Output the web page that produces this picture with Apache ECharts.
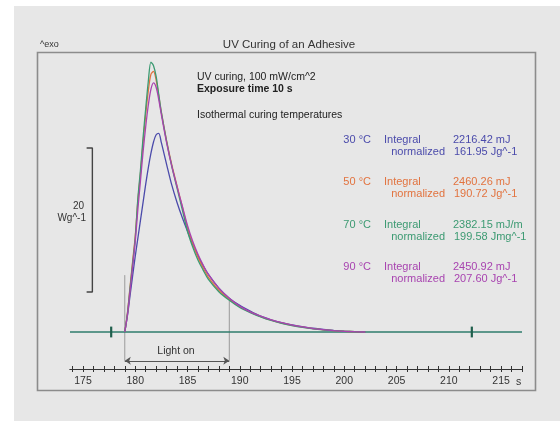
<!DOCTYPE html>
<html>
<head>
<meta charset="utf-8">
<style>
  html, body { margin: 0; padding: 0; background: #ffffff; }
  #chart { width: 560px; height: 421px; }
</style>
<script src="https://cdn.jsdelivr.net/npm/echarts@6/dist/echarts.min.js"></script>
</head>
<body>
<div id="chart"></div>
<script>
// Time axis (s) shared by the four DSC curves
const times = [179, 179.25, 179.5, 179.75, 180, 180.25, 180.5, 180.75, 181, 181.25, 181.5, 181.75,
  182, 182.25, 182.5, 183, 183.5, 184, 184.5, 185, 185.5, 186, 186.5, 187, 188, 189, 190, 191,
  192, 193, 194, 195, 196, 197, 198, 199, 200, 201, 202];

// Heat flow (W/g) for each isothermal curing temperature
const heat30 = [0, 2.2, 5.0, 7.8, 10.5, 13.0, 15.5, 18.0, 20.5, 22.8, 24.8, 26.4,
  27.4, 27.6, 26.3, 23.3, 20.4, 18.0, 15.9, 14.0, 12.2, 10.6, 9.2, 8.0, 6.1, 4.7, 3.7, 2.9,
  2.2, 1.7, 1.3, 1.0, 0.75, 0.52, 0.35, 0.22, 0.12, 0.05, 0];
const heat50 = [0, 2.6, 6.2, 9.8, 13.3, 18.2, 22.0, 26.3, 30.2, 33.5, 35.8, 36.2,
  35.0, 32.8, 30.5, 26.6, 23.2, 20.3, 17.4, 14.5, 12.3, 10.4, 8.9, 7.6, 5.8, 4.5, 3.5, 2.75,
  2.15, 1.65, 1.25, 0.92, 0.67, 0.46, 0.30, 0.19, 0.10, 0.04, 0];
const heat70 = [0, 2.5, 6.0, 9.5, 13.0, 18.5, 22.5, 27.0, 31.0, 34.8, 37.5, 37.0,
  35.5, 33.0, 30.5, 26.5, 23.0, 20.0, 17.0, 14.0, 11.8, 10.0, 8.6, 7.3, 5.6, 4.4, 3.4, 2.7,
  2.1, 1.6, 1.2, 0.9, 0.65, 0.45, 0.30, 0.18, 0.10, 0.04, 0];
const heat90 = [0, 2.3, 5.6, 9.0, 12.5, 17.0, 21.0, 25.0, 28.5, 31.5, 33.7, 34.6,
  34.0, 32.3, 30.2, 26.3, 23.0, 20.2, 17.5, 14.8, 12.6, 10.8, 9.3, 8.0, 6.1, 4.7, 3.6, 2.8,
  2.2, 1.7, 1.3, 0.95, 0.70, 0.48, 0.32, 0.20, 0.10, 0.04, 0];

// Axis ticks and labels (s)
const tickValues = [];
for (let t = 174; t <= 217; t++) tickValues.push(t);
const labelValues = [175, 180, 185, 190, 195, 200, 205, 210, 215];

// Baseline, integration limits, light exposure and scale bar
const baselineRange = [173.76, 217];
const limitMarks = [177.7, 212.2];
const lightOn = [179, 189];
const scaleBar = { t: 175.9, from: 5.56, size: 20 };

// Result table per temperature
const temps = ['30 °C', '50 °C', '70 °C', '90 °C'];
const integrals = ['2216.42 mJ', '2460.26 mJ', '2382.15 mJ/m', '2450.92 mJ'];
const normalized = ['161.95 Jg^-1', '190.72 Jg^-1', '199.58 Jmg^-1', '207.60 Jg^-1'];
const colors = ['#4b4bab', '#e2733f', '#3c9a72', '#a844b0'];
const curves = [heat30, heat50, heat70, heat90];

const pair = (arr) => times.map((t, i) => [t, arr[i]]);

const chart = echarts.init(document.getElementById('chart'), null, { renderer: 'canvas' });

const series = [];
// Light-on markers: two vertical lines and a double arrow
series.push({
  type: 'line', data: [[lightOn[0], 7.9], [lightOn[0], -4.0]],
  showSymbol: false, silent: true, z: 1,
  lineStyle: { color: '#9a9a9a', width: 1 }
});
series.push({
  type: 'line', data: [[lightOn[1], 4.4], [lightOn[1], -4.0]],
  showSymbol: false, silent: true, z: 1,
  lineStyle: { color: '#9a9a9a', width: 1 }
});
series.push({
  type: 'line', data: [], silent: true,
  markLine: {
    silent: true, symbol: ['arrow', 'arrow'], symbolSize: [6, 6],
    lineStyle: { color: '#555', width: 1, type: 'solid' },
    label: { show: false },
    data: [[{ coord: [lightOn[0], -4.0] }, { coord: [lightOn[1], -4.0] }]]
  }
});
// Baseline
series.push({
  type: 'line', data: [[baselineRange[0], 0], [baselineRange[1], 0]],
  showSymbol: false, silent: true, z: 3,
  lineStyle: { color: '#2f7d6c', width: 1.6 }
});
// Integration limit marks on the baseline
limitMarks.forEach(t => {
  series.push({
    type: 'line', data: [[t, -0.75], [t, 0.75]],
    showSymbol: false, silent: true, z: 4,
    lineStyle: { color: '#1f5f4c', width: 2.2 }
  });
});
// Scale bar (20 W/g)
series.push({
  type: 'line',
  data: [[scaleBar.t - 0.55, scaleBar.from + scaleBar.size], [scaleBar.t, scaleBar.from + scaleBar.size],
         [scaleBar.t, scaleBar.from], [scaleBar.t - 0.55, scaleBar.from]],
  showSymbol: false, silent: true,
  lineStyle: { color: '#444', width: 1.4 }
});
// Heat-flow curves
curves.forEach((c, i) => {
  series.push({
    type: 'line', data: pair(c), showSymbol: false, smooth: 0.3, silent: true, z: 5,
    lineStyle: { color: colors[i], width: 1.3 }
  });
});

const font = 'Liberation Sans, Arial, sans-serif';
const graphics = [
  { type: 'rect', shape: { x: 14, y: 6, width: 546, height: 415 }, style: { fill: '#e7e7e7' }, z: -10 },
  { type: 'rect', shape: { x: 37.5, y: 52.5, width: 498, height: 338 },
    style: { fill: 'none', stroke: '#8c8c8c', lineWidth: 1.6 }, z: -5 },
  { type: 'text', left: 40, top: 40, style: { text: '^exo', fontSize: 9, fill: '#333', fontFamily: font } },
  { type: 'text', x: 289, y: 39, style: { text: 'UV Curing of an Adhesive', fontSize: 11.5, fill: '#333', fontFamily: font, textAlign: 'center' } },
  { type: 'text', x: 197, y: 72, style: { text: 'UV curing, 100 mW/cm^2', fontSize: 10.5, fill: '#222', fontFamily: font } },
  { type: 'text', x: 197, y: 84, style: { text: 'Exposure time 10 s', fontSize: 10.5, fill: '#222', fontFamily: font, fontWeight: 'bold' } },
  { type: 'text', x: 197, y: 110, style: { text: 'Isothermal curing temperatures', fontSize: 10.5, fill: '#222', fontFamily: font } },
  { type: 'text', x: 84, y: 201, style: { text: '20', fontSize: 10, fill: '#333', fontFamily: font, textAlign: 'right' } },
  { type: 'text', x: 86, y: 213, style: { text: 'Wg^-1', fontSize: 10, fill: '#333', fontFamily: font, textAlign: 'right' } },
  { type: 'text', x: 176, y: 346, style: { text: 'Light on', fontSize: 10.5, fill: '#333', fontFamily: font, textAlign: 'center' } },
  { type: 'text', x: 516, y: 377, style: { text: 's', fontSize: 10.5, fill: '#333', fontFamily: font } }
];
const rowY = [134, 176, 219, 261];
temps.forEach((t, i) => {
  const y = rowY[i];
  const st = { fontSize: 11, fill: colors[i], fontFamily: font };
  graphics.push({ type: 'text', x: 371, y: y, style: Object.assign({ text: t, textAlign: 'right' }, st) });
  graphics.push({ type: 'text', x: 384, y: y, style: Object.assign({ text: 'Integral' }, st) });
  graphics.push({ type: 'text', x: 453, y: y, style: Object.assign({ text: integrals[i] }, st) });
  graphics.push({ type: 'text', x: 445, y: y + 12, style: Object.assign({ text: 'normalized', textAlign: 'right' }, st) });
  graphics.push({ type: 'text', x: 454, y: y + 12, style: Object.assign({ text: normalized[i] }, st) });
});

const axisCommon = {
  type: 'value', min: baselineRange[0], max: baselineRange[1], position: 'bottom',
  splitLine: { show: false },
  axisLine: { show: true, onZero: false, lineStyle: { color: '#333', width: 1 } }
};

chart.setOption({
  backgroundColor: '#ffffff',
  animation: false,
  grid: { left: 70, right: 38, top: 52, bottom: 52 },
  xAxis: [
    Object.assign({}, axisCommon, {
      axisTick: { show: true, length: 3, customValues: tickValues, lineStyle: { color: '#333' } },
      axisLabel: { show: true, customValues: labelValues, fontSize: 10.5, color: '#333', margin: 7, fontFamily: font }
    }),
    Object.assign({}, axisCommon, {
      axisTick: { show: true, inside: true, length: 3, customValues: tickValues, lineStyle: { color: '#333' } },
      axisLabel: { show: false }
    })
  ],
  yAxis: { type: 'value', min: -5.14, max: 38.9, show: false },
  graphic: graphics,
  series: series
});
</script>
</body>
</html>
